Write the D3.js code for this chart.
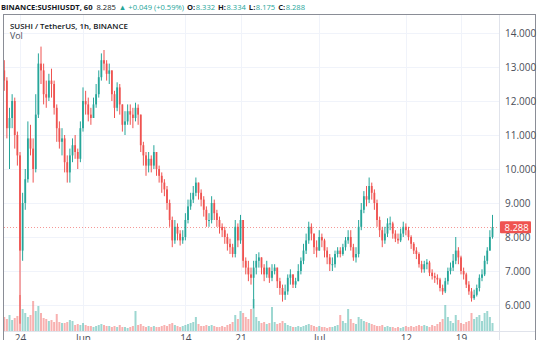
<!DOCTYPE html>
<html><head><meta charset="utf-8">
<script src="https://cdn.jsdelivr.net/npm/d3@7"></script>
<style>body{margin:0;background:#fff;overflow:hidden} svg{display:block;font-family:'Open Sans',sans-serif;}</style>
</head><body><svg id="c" width="540" height="340"></svg>
<script>
// ---- data (8-hour candles) ----
const startTime = [2021, 4, 22, 0];
const stepHours = 8;
const firstOpen = 12.9;
const closes = [12.6,11.2,11.5,12.0,11.0,10.4,7.6,9.0,9.7,10.9,10.6,10.0,11.6,13.1,12.9,12.2,12.1,12.6,12.5,11.8,
11.2,10.8,10.9,10.2,9.9,10.4,10.7,10.5,10.3,11.2,12.0,11.9,11.6,11.5,11.9,12.2,12.7,13.2,13.1,12.8,
12.9,12.2,11.8,12.4,11.9,11.3,11.4,11.7,11.6,11.5,11.8,11.6,10.7,10.4,10.1,10.3,10.1,10.5,10.0,9.8,
9.6,9.4,9.0,8.5,7.9,8.3,8.1,7.9,8.0,8.5,8.9,9.1,9.3,9.6,9.3,9.1,8.8,8.5,8.5,9.0,
8.7,8.5,8.3,8.2,8.0,7.8,7.7,7.5,8.3,7.9,8.5,7.3,7.1,6.9,6.8,7.1,7.3,7.4,7.1,6.9,
7.1,6.8,7.0,7.1,6.7,6.5,6.3,6.4,6.8,6.9,6.6,6.7,7.0,7.3,7.6,7.9,8.3,8.1,7.7,7.6,
8.0,7.9,7.6,7.4,7.2,7.2,7.5,7.6,7.5,7.7,7.9,8.0,7.7,7.4,7.5,8.3,8.8,9.2,9.1,9.5,
9.3,9.0,8.5,8.2,7.9,8.1,8.4,8.4,8.1,7.95,7.9,8.1,8.3,8.2,8.0,7.8,7.6,7.5,7.2,7.05,
7.2,7.25,6.95,6.85,6.8,6.75,6.5,6.4,6.7,7.0,7.1,7.3,7.6,7.4,7.0,6.9,6.6,6.4,6.2,6.3,
6.5,6.8,6.9,7.3,7.6,8.0,8.288];
const highs = [13.2,12.7,11.8,12.2,12.1,11.1,10.5,9.3,10.0,11.4,11.3,10.9,12.2,13.4,13.6,13.1,12.6,12.8,12.95,12.6,
11.9,11.4,11.2,11.0,10.4,10.6,10.9,11.0,10.6,11.4,12.4,12.3,12.1,11.8,12.1,12.5,12.9,13.4,13.5,13.2,
13.1,12.9,12.3,12.55,12.5,11.9,11.7,11.9,11.9,11.8,11.95,11.9,11.6,10.8,10.5,10.5,10.4,10.7,10.5,10.1,
9.9,9.7,9.5,9.1,8.6,8.5,8.4,8.2,8.2,8.7,9.1,9.3,9.5,9.75,9.6,9.4,9.2,8.9,8.7,9.2,
9.1,8.8,8.6,8.4,8.3,8.1,7.95,7.8,8.5,8.4,8.65,8.5,7.4,7.3,7.1,7.3,7.5,7.55,7.4,7.2,
7.3,7.1,7.2,7.2,7.1,6.8,6.6,6.6,6.9,7.05,6.9,6.8,7.2,7.4,7.8,8.1,8.45,8.4,8.1,7.9,
8.2,8.1,7.95,7.7,7.5,7.4,7.6,7.7,7.7,7.8,8.0,8.2,8.2,7.8,7.7,8.5,9.0,9.35,9.5,9.75,
9.6,9.4,9.1,8.6,8.3,8.3,8.55,8.6,8.45,8.2,8.1,8.25,8.45,8.4,8.3,8.05,7.85,7.7,7.55,7.3,
7.3,7.35,7.3,7.05,6.95,6.9,6.8,6.6,6.8,7.1,7.25,7.5,8.0,7.7,7.45,7.1,6.95,6.7,6.5,6.45,
6.6,6.9,7.05,7.45,7.7,8.2,8.65];
const lows = [12.3,10.9,10.0,11.2,10.6,10.1,5.45,7.3,8.8,9.6,10.4,9.6,9.9,11.5,12.5,11.9,11.8,12.0,12.1,11.6,
10.8,10.6,10.4,9.9,9.6,9.6,10.2,10.3,10.0,10.2,11.1,11.6,11.4,11.3,11.5,11.8,12.1,12.6,12.9,12.6,
12.5,12.0,11.5,11.7,11.6,11.1,11.0,11.3,11.3,11.2,11.4,11.3,10.5,10.1,9.8,9.9,9.9,10.0,9.8,9.6,
9.3,9.2,8.8,8.3,7.7,7.8,7.9,7.75,7.8,7.9,8.4,8.8,9.0,9.2,9.1,8.9,8.6,8.3,8.3,8.4,
8.5,8.3,8.1,8.0,7.8,7.6,7.5,7.4,7.4,7.7,7.8,7.1,6.9,6.7,6.6,5.9,6.9,7.1,6.9,6.7,
6.8,6.65,6.7,6.9,6.5,6.3,6.1,6.15,6.3,6.6,6.5,6.5,6.7,6.9,7.2,7.5,7.8,7.9,7.5,7.4,
7.6,7.7,7.4,7.2,7.0,7.0,7.1,7.4,7.4,7.45,7.6,7.8,7.6,7.3,7.25,7.4,8.2,8.7,8.9,9.0,
9.1,8.8,8.3,8.0,7.7,7.8,8.0,8.2,7.95,7.85,7.8,7.85,8.0,8.05,7.9,7.65,7.5,7.35,7.1,6.95,
6.95,7.05,6.85,6.75,6.65,6.6,6.4,6.3,6.35,6.6,6.9,7.0,7.2,7.2,6.9,6.75,6.5,6.3,6.1,6.15,
6.25,6.4,6.7,6.85,7.2,7.6,7.95];
const volumes = [14,12,16,11,13,15,36,22,18,14,16,30,20,25,18,13,12,10,11,9,
17,9,8,8,9,11,10,6,7,6,8,6,5,5,4,5,6,7,6,5,
5,4,5,4,6,4,4,3,4,5,20,6,7,5,4,5,4,5,4,4,
5,6,5,7,8,6,5,4,5,6,7,8,9,14,7,5,5,6,5,6,
5,4,4,5,4,6,7,9,16,12,20,18,14,12,22,32,14,10,8,9,
7,8,24,9,7,8,10,8,6,5,4,4,5,4,5,6,7,6,5,4,
5,4,4,3,4,4,5,6,16,10,8,22,12,8,7,14,12,10,9,8,
7,6,5,5,6,4,5,4,4,3,4,3,4,5,4,5,4,5,6,5,
6,5,4,6,5,7,9,12,26,14,10,8,16,11,8,7,9,10,18,12,
14,16,10,18,20,14,8];
const priceTicks = [6,7,8,9,10,11,12,13,14];
const dateTicks = [[2021,4,24],[2021,5,1],[2021,5,14],[2021,5,21],[2021,6,1],[2021,6,12],[2021,6,19]];
const dateTickLabels = ["24","Jun","14","21","Jul","12","19"];
const lastPrice = 8.288;
const headerLabels = ["BINANCE:SUSHIUSDT, 60", "O:", "H:", "L:", "C:"];
const headerValues = ["8.285", "\u25B2 +0.049 (+0.59%)", "8.332", "8.334", "8.175", "8.288"];
const paneTitle = "SUSHI / TetherUS, 1h, BINANCE";
const volTitle = "Vol";

// ---- layout ----
const UP = "#26a69a", DOWN = "#ef5350", DARK = "#131722", AXIS = "#4a4e59";
const plot = {left: 4, right: 499, top: 15, bottom: 331};
const svg = d3.select("#c");

const t0 = new Date(...startTime).getTime();
const candles = closes.map((c, i) => ({
  t: new Date(t0 + i * stepHours * 3600e3),
  o: i ? closes[i - 1] : firstOpen, h: highs[i], l: lows[i], c, v: volumes[i]
}));

const x = d3.scaleTime()
  .domain([new Date(...dateTicks[0]), new Date(...dateTicks[dateTicks.length - 1])])
  .range([20, 461]);
const y = d3.scaleLinear().domain([6, 14]).range([305, 33]);
const yv = d3.scaleLinear().domain([0, 36]).range([331, 295]);

svg.append("defs").append("clipPath").attr("id", "clip")
  .append("rect").attr("x", plot.left).attr("y", plot.top)
  .attr("width", plot.right - plot.left).attr("height", plot.bottom - plot.top);

// grid
const grid = svg.append("g");
grid.selectAll("line.h").data(priceTicks).join("line")
  .attr("x1", plot.left).attr("x2", plot.right)
  .attr("y1", d => Math.round(y(d)) + 0.5).attr("y2", d => Math.round(y(d)) + 0.5)
  .attr("stroke", "#f0f3fa");
grid.selectAll("line.v").data(dateTicks).join("line")
  .attr("x1", d => Math.round(x(new Date(...d))) + 0.5).attr("x2", d => Math.round(x(new Date(...d))) + 0.5)
  .attr("y1", plot.top).attr("y2", plot.bottom)
  .attr("stroke", "#f0f3fa");

const g = svg.append("g").attr("clip-path", "url(#clip)");

// volume
g.append("g").selectAll("rect").data(candles).join("rect")
  .attr("x", d => x(d.t) - 1).attr("width", 2)
  .attr("y", d => yv(d.v)).attr("height", d => yv(0) - yv(d.v))
  .attr("fill", d => d.c >= d.o ? UP : DOWN).attr("opacity", 0.45);

// last price line
g.append("line").attr("x1", plot.left).attr("x2", plot.right)
  .attr("y1", Math.round(y(lastPrice)) + 0.5).attr("y2", Math.round(y(lastPrice)) + 0.5)
  .attr("stroke", DOWN).attr("stroke-opacity", 0.6).attr("stroke-dasharray", "1,2");

// candles
const cg = g.append("g");
cg.selectAll("line").data(candles).join("line")
  .attr("x1", d => x(d.t)).attr("x2", d => x(d.t))
  .attr("y1", d => y(Math.max(d.h, d.o, d.c))).attr("y2", d => y(Math.min(d.l, d.o, d.c)))
  .attr("stroke", d => d.c >= d.o ? UP : DOWN).attr("stroke-width", 1);
cg.selectAll("rect").data(candles).join("rect")
  .attr("x", d => x(d.t) - 0.9).attr("width", 1.8)
  .attr("y", d => y(Math.max(d.o, d.c)))
  .attr("height", d => Math.max(1, Math.abs(y(d.o) - y(d.c))))
  .attr("fill", d => d.c >= d.o ? UP : DOWN);

// axes separators & frame
svg.append("line").attr("x1", plot.right + 0.5).attr("x2", plot.right + 0.5)
  .attr("y1", plot.top).attr("y2", 340).attr("stroke", "#e0e3eb");
svg.append("line").attr("x1", plot.left).attr("x2", 535)
  .attr("y1", plot.bottom + 0.5).attr("y2", plot.bottom + 0.5).attr("stroke", "#e0e3eb");
svg.append("rect").attr("x", 3.5).attr("y", 14.5).attr("width", 532).attr("height", 340)
  .attr("fill", "none").attr("stroke", "#8a8d96");

// price axis
const ya = d3.axisRight(y).tickValues(priceTicks).tickFormat(d3.format(".3f")).tickSize(0).tickPadding(6);
svg.append("g").attr("transform", `translate(${plot.right},0)`).call(ya)
  .call(s => s.select(".domain").remove())
  .selectAll("text").attr("font-size", 10).attr("fill", AXIS).attr("font-family", "'Open Sans',sans-serif");

// time axis
const xa = d3.axisBottom(x).tickValues(dateTicks.map(d => new Date(...d)))
  .tickFormat((d, i) => dateTickLabels[i]).tickSize(0).tickPadding(4);
svg.append("g").attr("transform", `translate(0,${plot.bottom})`).call(xa)
  .call(s => s.select(".domain").remove())
  .selectAll("text").attr("font-size", 10).attr("fill", AXIS).attr("font-family", "'Open Sans',sans-serif");

// last price label
const ly = y(lastPrice);
svg.append("rect").attr("x", 500).attr("y", ly - 6).attr("width", 31).attr("height", 12)
  .attr("rx", 1).attr("fill", DOWN);
svg.append("text").attr("x", 504.5).attr("y", ly).attr("dy", "0.35em")
  .attr("font-size", 9.5).attr("fill", "#fff").text(d3.format(".3f")(lastPrice));

// header: separate text runs, labels bold/dark, values regular/teal, fitted to ~304px
const hdr = [
  [headerLabels[0], DARK, 700, 4], [headerValues[0], DARK, 400, 3], [headerValues[1], UP, 400, 3],
  [headerLabels[1], DARK, 700, 0.5], [headerValues[2], UP, 400, 3],
  [headerLabels[2], DARK, 700, 0.5], [headerValues[3], UP, 400, 3],
  [headerLabels[3], DARK, 700, 0.5], [headerValues[4], UP, 400, 3],
  [headerLabels[4], DARK, 700, 0.5], [headerValues[5], UP, 400, 0]
];
const hg = svg.append("g");
const runs = hg.selectAll("text").data(hdr).join("text")
  .attr("y", 10).attr("font-size", 9).attr("fill", d => d[1]).attr("font-weight", d => d[2]).text(d => d[0]);
const widths = runs.nodes().map(n => n.getComputedTextLength());
const gaps = d3.sum(hdr, d => d[3]);
const fs = 9 * (304 - gaps) / d3.sum(widths);
let cx = 1;
runs.attr("font-size", fs).each(function (d, i) {
  d3.select(this).attr("x", cx);
  cx += widths[i] * fs / 9 + d[3];
});

// pane titles
const tt = svg.append("text").attr("x", 10).attr("y", 28.5).attr("font-size", 9).attr("font-weight", 600)
  .attr("fill", DARK).text(paneTitle);
const tw = tt.node().getComputedTextLength();
tt.attr("font-size", 9 * 118 / tw);
svg.append("text").attr("x", 10).attr("y", 39).attr("font-size", 8.8)
  .attr("fill", AXIS).text(volTitle);
</script></body></html>
